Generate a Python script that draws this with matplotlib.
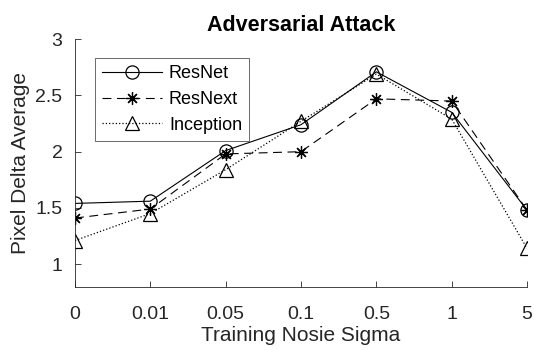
import numpy as np
import matplotlib
matplotlib.use('Agg')
import matplotlib.pyplot as plt

plt.rcParams['font.family'] = ['Liberation Sans', 'DejaVu Sans']

sigma_labels = ['0', '0.01', '0.05', '0.1', '0.5', '1', '5']
resnet = [1.54, 1.56, 2.01, 2.24, 2.71, 2.35, 1.48]
resnext = [1.41, 1.49, 1.98, 2.00, 2.47, 2.45, 1.48]
inception = [1.21, 1.45, 1.84, 2.27, 2.69, 2.29, 1.14]

x = np.arange(len(sigma_labels))

fig = plt.figure(figsize=(5.34, 3.5), dpi=100)
ax = fig.add_axes([0.1404, 0.181, 0.8466, 0.707])

ax.plot(x, resnet, '-', color='k', lw=0.8, marker='o', ms=9.5,
        mfc='none', mec='k', mew=0.9, label='ResNet')
ax.plot(x, resnext, '--', color='k', lw=0.8, marker=(8, 2, 0), ms=9,
        mec='k', mew=0.9, dashes=(8, 5), label='ResNext')
ax.plot(x, inception, ':', color='k', lw=0.9, marker='^', ms=10,
        mfc='none', mec='k', mew=0.9, label='Inception')

ax.set_xlim(0, 6)
ax.set_ylim(0.8, 3)
ax.set_xticks(x)
ax.set_xticklabels(sigma_labels)
ax.set_yticks([1, 1.5, 2, 2.5, 3])
ax.set_yticklabels(['1', '1.5', '2', '2.5', '3'])

for s in ['top', 'right']:
    ax.spines[s].set_visible(False)
for s in ['left', 'bottom']:
    ax.spines[s].set_color('#262626')
    ax.spines[s].set_linewidth(0.6)
ax.tick_params(direction='in', length=4, width=0.6, colors='#262626',
               labelsize=14, labelcolor='#262626')
ax.tick_params(axis='x', pad=14)
ax.tick_params(axis='y', pad=9)

ax.set_title('Adversarial Attack', fontsize=15.5, fontweight='bold', pad=6)
ax.set_ylabel('Pixel Delta Average', fontsize=15, color='#262626', labelpad=4)
ax.set_xlabel('Training Nosie Sigma', fontsize=15, color='#262626', labelpad=2)

leg = ax.legend(loc='upper left', bbox_to_anchor=(0.044, 0.924), fontsize=13,
                frameon=True, fancybox=False, handlelength=3.3,
                borderaxespad=0, borderpad=0.4, labelspacing=0.48,
                handletextpad=0.4)
leg.get_frame().set_edgecolor('#262626')
leg.get_frame().set_linewidth(0.6)

fig.savefig('out.png', dpi=100)
